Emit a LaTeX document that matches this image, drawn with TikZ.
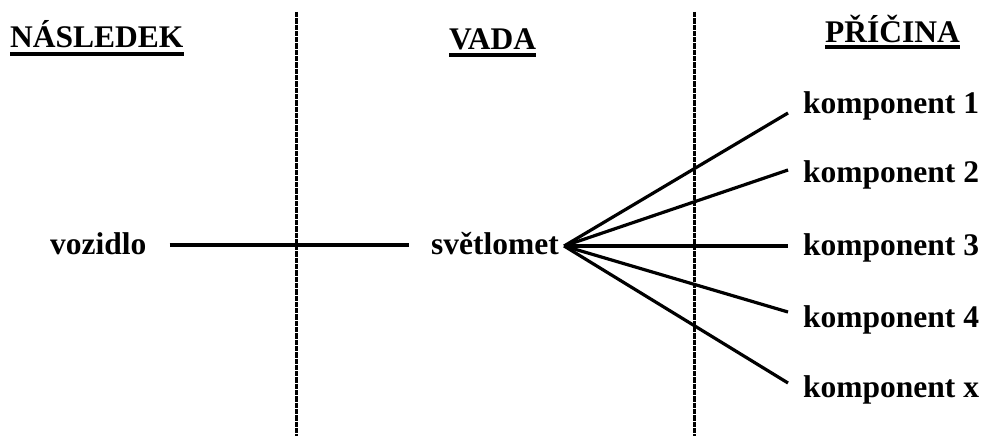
\documentclass[tikz,border=0pt]{standalone}
\usepackage{fontspec}
\setmainfont{Liberation Serif}
\begin{document}
\begin{tikzpicture}[x=1pt,y=-1pt,
  lbl/.style={inner sep=0pt,anchor=base west,font=\fontsize{31.5}{36}\selectfont\bfseries},
  uline/.style={line width=4pt},
  sep/.style={line width=3pt,dash pattern=on 5.3pt off 1pt},
  conn/.style={line width=3.2pt}]
\useasboundingbox (0,0) rectangle (987,436);
% headings
\node[lbl] (h1) at (10,48) {NÁSLEDEK};
\node[lbl] (h2) at (449,50) {VADA};
\node[lbl] (h3) at (825,42) {PŘÍČINA};
\draw[uline] ([yshift=-6pt]h1.base west) -- ([yshift=-6pt]h1.base east);
\draw[uline] ([yshift=-5pt]h2.base west) -- ([yshift=-5pt]h2.base east);
\draw[uline] ([yshift=-5.5pt]h3.base west) -- ([yshift=-5.5pt]h3.base east);
% separators
\coordinate (d1t) at (296,12);
\coordinate (d1b) at (296,436);
\coordinate (d2t) at (694,12);
\coordinate (d2b) at (694,436);
\draw[sep] (d1t) -- (d1b);
\draw[sep] (d2t) -- (d2b);
% main chain
\node[lbl] (voz) at (50,254) {vozidlo};
\node[lbl] (svet) at (431,254) {světlomet};
\draw[conn,shorten <=23pt,shorten >=22pt] ([yshift=9pt]voz.base east) -- ([yshift=9pt]svet.base west);
\coordinate (fan) at ([xshift=5pt,yshift=8pt]svet.base east);
% components
\node[lbl] (k1) at (803,113) {komponent 1};
\node[lbl] (k2) at (803,182) {komponent 2};
\node[lbl] (k3) at (803,255) {komponent 3};
\node[lbl] (k4) at (803,327) {komponent 4};
\node[lbl] (k5) at (803,397) {komponent x};
\coordinate (e1) at (788,113);
\coordinate (e2) at (788,170);
\coordinate (e3) at (788,246);
\coordinate (e4) at (788,312);
\coordinate (e5) at (788,383);
\foreach \e in {e1,e2,e3,e4,e5} \draw[conn] (fan) -- (\e);
\end{tikzpicture}
\end{document}
